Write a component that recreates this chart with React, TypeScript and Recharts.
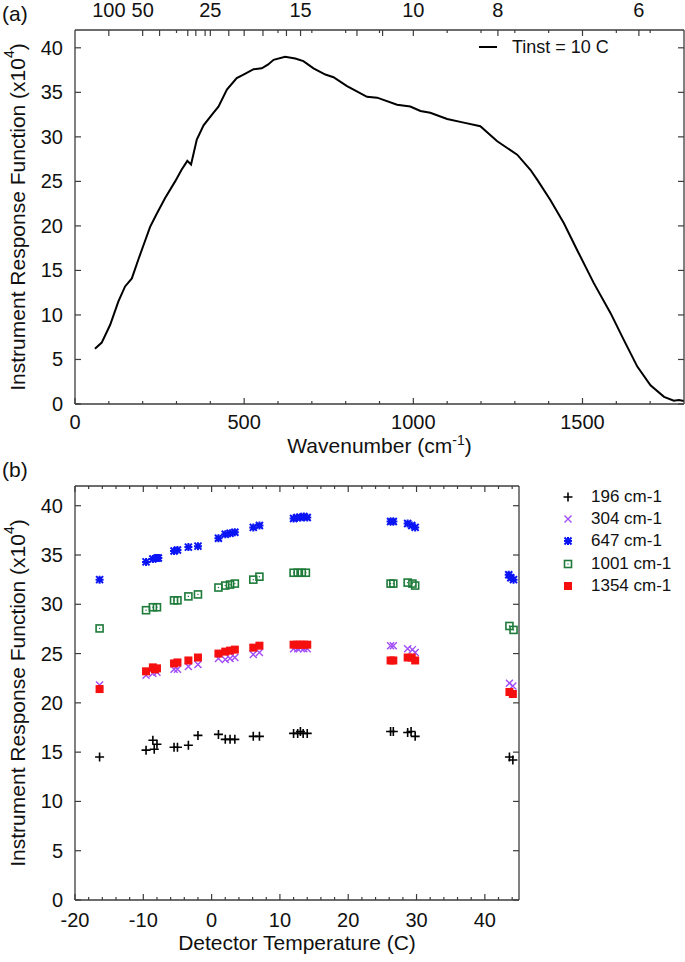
import { LineChart, Line, ScatterChart, Scatter, XAxis, YAxis, Legend, Label } from 'recharts';

const FONT = '"Liberation Sans", Arial, Helvetica, sans-serif';
const AXIS = '#3c3c3c';

// (a) instrument response vs wavenumber, Tinst = 10 C
const wavenumbers = [
  59, 79, 104, 128, 148, 168, 187, 204, 222, 242, 266, 296, 315, 332, 343, 360, 380, 409, 424, 449,
  478, 498, 528, 552, 570, 587, 621, 651, 675, 705, 740, 764, 804, 833, 863, 893, 952, 991, 1021, 1050,
  1100, 1149, 1198, 1248, 1307, 1346, 1366, 1405, 1445, 1484, 1533, 1583, 1622, 1662, 1701, 1741, 1770, 1785, 1800,
];
const response = [
  6.2, 6.9, 8.9, 11.5, 13.2, 14.1, 16.2, 18.0, 19.9, 21.4, 23.1, 25.0, 26.3, 27.3, 26.9, 29.7, 31.3, 32.7, 33.4, 35.3,
  36.6, 37.0, 37.6, 37.7, 38.1, 38.65, 39.0, 38.8, 38.5, 37.7, 37.0, 36.7, 35.7, 35.1, 34.5, 34.4, 33.6, 33.4, 32.9, 32.7,
  32.0, 31.6, 31.2, 29.5, 28.0, 26.3, 25.2, 22.9, 20.3, 17.3, 13.6, 10.2, 7.2, 4.2, 2.1, 0.8, 0.37, 0.45, 0.33,
];
const spectrum = wavenumbers.map((wn, i) => ({ wn, irf: response[i] }));

const wnTicks = [0, 100, 200, 300, 400, 500, 600, 700, 800, 900, 1000, 1100, 1200, 1300, 1400, 1500, 1600, 1700];
const wnLabelled = [0, 500, 1000, 1500];
const wavelengthTicks = [100, 50, 40, 30, 28, 26, 25, 22, 20, 18, 16, 15, 12, 11, 10, 8, 6];
const wavelengthLabelled = [100, 50, 25, 15, 10, 8, 6];
const irfTicks = [0, 5, 10, 15, 20, 25, 30, 35, 40];

// (b) response vs detector temperature, [T (C), value]
const pts196: [number, number][] = [
  [-16.4, 14.5], [-9.6, 15.2], [-8.6, 16.2], [-8.4, 15.3], [-8.0, 15.8], [-5.5, 15.5], [-5.0, 15.5], [-3.4, 15.7],
  [-2.0, 16.7], [1.0, 16.8], [2.0, 16.3], [2.7, 16.3], [3.4, 16.3], [6.1, 16.6], [7.0, 16.6], [12.0, 16.9],
  [12.6, 16.9], [13.0, 17.1], [13.4, 16.9], [14.0, 16.9], [26.2, 17.1], [26.6, 17.1], [28.7, 17.0], [29.2, 17.1],
  [29.8, 16.6], [43.6, 14.5], [44.1, 14.2],
];
const pts304: [number, number][] = [
  [-16.4, 21.8], [-9.6, 22.8], [-8.6, 23.0], [-8.0, 23.1], [-5.5, 23.4], [-5.0, 23.4], [-3.4, 23.7], [-2.0, 23.9],
  [1.0, 24.5], [2.0, 24.4], [2.7, 24.5], [3.4, 24.6], [6.1, 24.9], [7.0, 25.1], [12.0, 25.5], [12.6, 25.5],
  [13.0, 25.6], [13.5, 25.5], [14.0, 25.5], [26.2, 25.8], [26.6, 25.8], [28.7, 25.5], [29.4, 25.4], [29.8, 25.1],
  [43.6, 22.0], [44.1, 21.7],
];
const pts647: [number, number][] = [
  [-16.4, 32.5], [-9.6, 34.3], [-8.6, 34.6], [-8.0, 34.7], [-7.8, 34.7], [-5.5, 35.4], [-5.0, 35.5], [-3.4, 35.8],
  [-2.0, 35.9], [1.0, 36.7], [2.0, 37.1], [2.7, 37.2], [3.4, 37.3], [6.1, 37.8], [7.0, 38.0], [12.0, 38.7],
  [12.5, 38.8], [13.0, 38.8], [13.5, 38.9], [14.0, 38.8], [26.2, 38.4], [26.6, 38.4], [28.7, 38.2], [29.3, 38.0],
  [29.8, 37.8], [43.5, 33.0], [43.8, 32.7], [44.2, 32.5],
];
const pts1001: [number, number][] = [
  [-16.4, 27.55], [-9.6, 29.4], [-8.6, 29.7], [-8.0, 29.7], [-5.5, 30.4], [-5.0, 30.4], [-3.4, 30.8], [-2.0, 31.0],
  [1.0, 31.7], [2.0, 31.9], [2.7, 32.0], [3.4, 32.1], [6.1, 32.5], [7.0, 32.8], [12.0, 33.2], [12.6, 33.2],
  [13.2, 33.2], [13.8, 33.2], [26.2, 32.1], [26.6, 32.1], [28.7, 32.2], [29.4, 32.1], [29.8, 31.9], [43.6, 27.8],
  [44.2, 27.4],
];
const pts1354: [number, number][] = [
  [-16.4, 21.4], [-9.6, 23.2], [-8.6, 23.6], [-8.3, 23.4], [-8.0, 23.5], [-5.5, 24.0], [-5.0, 24.1], [-3.4, 24.3],
  [-2.0, 24.6], [1.0, 25.0], [2.0, 25.2], [2.7, 25.3], [3.4, 25.4], [6.1, 25.6], [7.0, 25.8], [12.0, 25.9],
  [12.5, 25.9], [13.0, 25.9], [13.5, 25.9], [14.0, 25.9], [26.2, 24.3], [26.6, 24.3], [28.7, 24.6], [29.3, 24.6],
  [29.8, 24.3], [43.6, 21.1], [44.1, 20.9],
];
const tempTicks = [-20, -18, -16, -14, -12, -10, -8, -6, -4, -2, 0, 2, 4, 6, 8, 10, 12, 14, 16, 18, 20, 22, 24, 26, 28, 30, 32, 34, 36, 38, 40, 42, 44];
const tempLabelled = [-20, -10, 0, 10, 20, 30, 40];

type Kind = 'plus' | 'cross' | 'star' | 'box' | 'fill';
const seriesB: { name: string; kind: Kind; color: string; pts: [number, number][] }[] = [
  { name: '196 cm-1', kind: 'plus', color: '#000000', pts: pts196 },
  { name: '304 cm-1', kind: 'cross', color: '#a04cf7', pts: pts304 },
  { name: '647 cm-1', kind: 'star', color: '#0a14f5', pts: pts647 },
  { name: '1001 cm-1', kind: 'box', color: '#1e7b3a', pts: pts1001 },
  { name: '1354 cm-1', kind: 'fill', color: '#f50f0f', pts: pts1354 },
];

function Marker({ kind, cx, cy, color }: { kind: Kind; cx: number; cy: number; color: string }) {
  if (kind === 'plus')
    return <path d={`M${cx - 4.5},${cy}H${cx + 4.5}M${cx},${cy - 4.5}V${cy + 4.5}`} stroke={color} strokeWidth={1.6} />;
  if (kind === 'cross')
    return <path d={`M${cx - 3.5},${cy - 3.5}L${cx + 3.5},${cy + 3.5}M${cx - 3.5},${cy + 3.5}L${cx + 3.5},${cy - 3.5}`} stroke={color} strokeWidth={1.4} />;
  if (kind === 'star')
    return <path d={`M${cx - 4},${cy}H${cx + 4}M${cx},${cy - 4}V${cy + 4}M${cx - 3.5},${cy - 3.5}L${cx + 3.5},${cy + 3.5}M${cx - 3.5},${cy + 3.5}L${cx + 3.5},${cy - 3.5}`} stroke={color} strokeWidth={2} />;
  if (kind === 'box')
    return (
      <g>
        <rect x={cx - 3.5} y={cy - 3.5} width={7} height={7} fill="none" stroke={color} strokeWidth={1.6} />
        <rect x={cx - 0.6} y={cy - 0.6} width={1.2} height={1.2} fill={color} />
      </g>
    );
  return <rect x={cx - 4} y={cy - 4} width={8} height={8} fill={color} />;
}

type Side = 'bottom' | 'top' | 'left' | 'right';
const tickRenderer = (side: Side, labelOf: (v: number) => string | null, longOf: (v: number) => boolean, below = 27) =>
  (props: any) => {
    const { x, y, payload } = props;
    const v = payload.value as number;
    const len = longOf(v) ? 6 : 3;
    const lab = labelOf(v);
    const dx = side === 'left' ? len : side === 'right' ? -len : 0;
    const dy = side === 'bottom' ? -len : side === 'top' ? len : 0;
    let text = null;
    if (lab !== null) {
      const common = { fontFamily: FONT, fontSize: 20, fill: '#111' };
      if (side === 'bottom') text = <text x={x} y={y + below} textAnchor="middle" {...common}>{lab}</text>;
      if (side === 'top') text = <text x={x} y={y - 13} textAnchor="middle" {...common}>{lab}</text>;
      if (side === 'left') text = <text x={x - 12} y={y + 7} textAnchor="end" {...common}>{lab}</text>;
    }
    return (
      <g>
        <line x1={x} y1={y} x2={x + dx} y2={y + dy} stroke={AXIS} strokeWidth={1.2} />
        {text}
      </g>
    );
  };

const same = (a: number, b: number) => Math.abs(a - b) < 1e-6;
const topTicks = Array.from(new Set([...wnTicks.filter((v) => v > 0), ...wavelengthTicks.map((l) => 10000 / l)])).sort((a, b) => a - b);
const topLabel = (v: number) => {
  const l = wavelengthLabelled.find((w) => same(10000 / w, v));
  return l === undefined ? null : String(l);
};
const topLong = (v: number) => wavelengthTicks.some((w) => same(10000 / w, v)) || wnLabelled.includes(v);

const axisLine = { stroke: AXIS, strokeWidth: 1.3 };

function YTitle(props: any) {
  const vb = props.viewBox;
  const cx = 17;
  const cy = vb.y + vb.height / 2;
  return (
    <text x={cx} y={cy} transform={`rotate(-90 ${cx} ${cy})`} textAnchor="middle" dominantBaseline="central" fontFamily={FONT} fontSize={21} fill="#111">
      Instrument Response Function (x10<tspan dy={-8} fontSize={14}>4</tspan><tspan dy={8}>)</tspan>
    </text>
  );
}

function XTitle(props: any) {
  const vb = props.viewBox;
  return (
    <text x={vb.x + vb.width / 2} y={vb.y + props.dyBase} textAnchor="middle" fontFamily={FONT} fontSize={21} fill="#111">
      {props.children}
    </text>
  );
}

function TopLegend() {
  return (
    <div style={{ display: 'flex', alignItems: 'center', height: 22, fontFamily: FONT, fontSize: 18, color: '#111' }}>
      <svg width={24} height={22}>
        <line x1={3} y1={11} x2={21} y2={11} stroke="#000" strokeWidth={2} />
      </svg>
      <span style={{ marginLeft: 12 }}>Tinst = 10 C</span>
    </div>
  );
}

function BottomLegend() {
  return (
    <div style={{ fontFamily: FONT, fontSize: 17, color: '#111' }}>
      {seriesB.map((s) => (
        <div key={s.name} style={{ display: 'flex', alignItems: 'center', height: 22.2 }}>
          <svg width={26} height={22}>
            <Marker kind={s.kind} cx={13} cy={11} color={s.color} />
          </svg>
          <span style={{ marginLeft: 10 }}>{s.name}</span>
        </div>
      ))}
    </div>
  );
}

function PanelA() {
  return (
    <LineChart width={685} height={460} data={spectrum} margin={{ top: 29, right: 0, bottom: 55, left: 74 }}>
      <XAxis xAxisId="wn" type="number" dataKey="wn" domain={[0, 1800]} ticks={wnTicks} interval={0} height={1}
        tickSize={0} tickMargin={0} tickLine={false} axisLine={axisLine} allowDataOverflow
        tick={tickRenderer('bottom', (v) => (wnLabelled.includes(v) ? String(v) : null), (v) => wnLabelled.includes(v), 25)}>
        <Label content={<XTitle dyBase={49}>Wavenumber (cm<tspan dy={-8} fontSize={14}>-1</tspan><tspan dy={8}>)</tspan></XTitle>} />
      </XAxis>
      <XAxis xAxisId="lambda" orientation="top" type="number" dataKey="wn" domain={[0, 1800]} ticks={topTicks} interval={0} height={1}
        tickSize={0} tickMargin={0} tickLine={false} axisLine={axisLine} allowDataOverflow
        tick={tickRenderer('top', topLabel, topLong)} />
      <YAxis yAxisId="irf" type="number" domain={[0, 42]} ticks={irfTicks} interval={0} width={1}
        tickSize={0} tickMargin={0} tickLine={false} axisLine={axisLine} allowDataOverflow
        tick={tickRenderer('left', (v) => String(v), () => true)}>
        <Label content={<YTitle />} />
      </YAxis>
      <YAxis yAxisId="irfR" orientation="right" type="number" domain={[0, 42]} ticks={irfTicks} interval={0} width={1}
        tickSize={0} tickMargin={0} tickLine={false} axisLine={axisLine} allowDataOverflow
        tick={tickRenderer('right', () => null, () => true)} />
      <Legend content={() => <TopLegend />} layout="horizontal" verticalAlign="middle" align="center"
        wrapperStyle={{ left: 476, top: 36, width: 160, height: 22 }} />
      <Line xAxisId="wn" yAxisId="irf" dataKey="irf" type="linear" stroke="#000" strokeWidth={2} dot={false} isAnimationActive={false} />
      <Line xAxisId="lambda" yAxisId="irfR" dataKey="irf" type="linear" stroke="none" dot={false} isAnimationActive={false} legendType="none" />
    </LineChart>
  );
}

function PanelB() {
  return (
    <ScatterChart width={685} height={502} margin={{ top: 25, right: 165, bottom: 61, left: 74 }}>
      <XAxis xAxisId="t" type="number" dataKey="t" domain={[-20, 45]} ticks={tempTicks} interval={0} height={1}
        tickSize={0} tickMargin={0} tickLine={false} axisLine={axisLine} allowDataOverflow
        tick={tickRenderer('bottom', (v) => (tempLabelled.includes(v) ? String(v) : null), (v) => tempLabelled.includes(v))}>
        <Label content={<XTitle dyBase={50}>Detector Temperature (C)</XTitle>} />
      </XAxis>
      <XAxis xAxisId="tTop" orientation="top" type="number" dataKey="t" domain={[-20, 45]} ticks={tempTicks} interval={0} height={1}
        tickSize={0} tickMargin={0} tickLine={false} axisLine={axisLine} allowDataOverflow
        tick={tickRenderer('top', () => null, (v) => tempLabelled.includes(v))} />
      <YAxis yAxisId="v" type="number" dataKey="v" domain={[0, 42]} ticks={irfTicks} interval={0} width={1}
        tickSize={0} tickMargin={0} tickLine={false} axisLine={axisLine} allowDataOverflow
        tick={tickRenderer('left', (v) => String(v), () => true)}>
        <Label content={<YTitle />} />
      </YAxis>
      <YAxis yAxisId="vR" orientation="right" type="number" dataKey="v" domain={[0, 42]} ticks={irfTicks} interval={0} width={1}
        tickSize={0} tickMargin={0} tickLine={false} axisLine={axisLine} allowDataOverflow
        tick={tickRenderer('right', () => null, () => true)} />
      <Legend content={() => <BottomLegend />} layout="horizontal" verticalAlign="middle" align="center"
        wrapperStyle={{ left: 555, top: 26, width: 130, height: 112 }} />
      <Scatter xAxisId="tTop" yAxisId="vR" data={[{ t: 0, v: 0 }]} shape={() => <g />} isAnimationActive={false} legendType="none" />
      {seriesB.map((s) => (
        <Scatter key={s.name} name={s.name} xAxisId="t" yAxisId="v" data={s.pts.map(([t, v]) => ({ t, v }))}
          shape={(p: any) => <Marker kind={s.kind} cx={p.cx} cy={p.cy} color={s.color} />} isAnimationActive={false} />
      ))}
    </ScatterChart>
  );
}

export default function App() {
  return (
    <div style={{ position: 'absolute', left: 0, top: 0, width: 685, height: 962, background: '#fff', fontFamily: FONT }}>
      <div style={{ position: 'absolute', left: 0, top: 0 }}>
        <PanelA />
      </div>
      <div style={{ position: 'absolute', left: 0, top: 460 }}>
        <PanelB />
      </div>
      <div style={{ position: 'absolute', left: 2, top: 2, fontSize: 21, color: '#111' }}>(a)</div>
      <div style={{ position: 'absolute', left: 2, top: 458, fontSize: 21, color: '#111' }}>(b)</div>
    </div>
  );
}
